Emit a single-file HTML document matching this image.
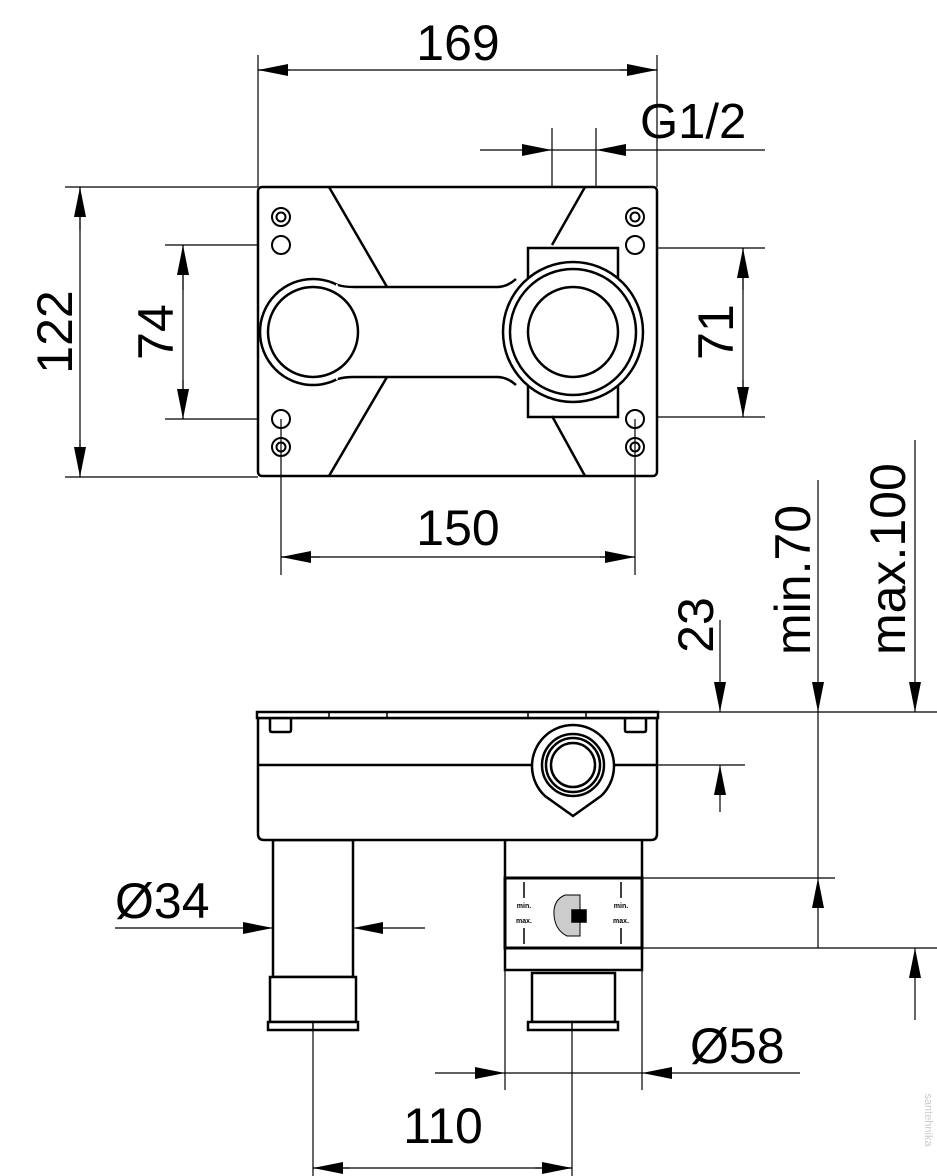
<!DOCTYPE html>
<html><head><meta charset="utf-8"><style>html,body{margin:0;padding:0;background:#fff}svg{display:block}text{font-family:"Liberation Sans",sans-serif;fill:#000}</style></head>
<body>
<svg width="937" height="1176" viewBox="0 0 937 1176" xmlns="http://www.w3.org/2000/svg">
<defs>
<marker id="a" viewBox="0 0 30 12" refX="30" refY="6" markerWidth="30" markerHeight="12" markerUnits="userSpaceOnUse" orient="auto"><path d="M0,0 L30,6 L0,12 z" fill="#000"/></marker>
</defs>
<g stroke="#000" stroke-width="1.2" fill="none">
<line x1="258" y1="55" x2="258" y2="187"/><line x1="657" y1="55" x2="657" y2="187"/>
<line x1="552" y1="128" x2="552" y2="245"/><line x1="596" y1="128" x2="596" y2="245"/>
<line x1="65" y1="187" x2="258" y2="187"/><line x1="65" y1="477" x2="258" y2="477"/>
<line x1="165" y1="245" x2="281" y2="245"/><line x1="165" y1="419" x2="281" y2="419"/>
<line x1="620" y1="248" x2="765" y2="248"/><line x1="620" y1="417" x2="765" y2="417"/>
<line x1="281" y1="419" x2="281" y2="575"/><line x1="635" y1="419" x2="635" y2="575"/>
<line x1="258" y1="70" x2="657" y2="70"/>
<line x1="290" y1="70" x2="258" y2="70" marker-end="url(#a)"/><line x1="620" y1="70" x2="657" y2="70" marker-end="url(#a)"/>
<line x1="480" y1="150" x2="552" y2="150" marker-end="url(#a)"/><line x1="765" y1="150" x2="596" y2="150" marker-end="url(#a)"/>
<line x1="552" y1="150" x2="596" y2="150"/>
<line x1="80" y1="187" x2="80" y2="477"/>
<line x1="80" y1="230" x2="80" y2="187" marker-end="url(#a)"/><line x1="80" y1="440" x2="80" y2="477" marker-end="url(#a)"/>
<line x1="183" y1="245" x2="183" y2="419"/>
<line x1="183" y1="290" x2="183" y2="245" marker-end="url(#a)"/><line x1="183" y1="380" x2="183" y2="419" marker-end="url(#a)"/>
<line x1="743" y1="248" x2="743" y2="417"/>
<line x1="743" y1="290" x2="743" y2="248" marker-end="url(#a)"/><line x1="743" y1="380" x2="743" y2="417" marker-end="url(#a)"/>
<line x1="281" y1="557" x2="635" y2="557"/>
<line x1="320" y1="557" x2="281" y2="557" marker-end="url(#a)"/><line x1="600" y1="557" x2="635" y2="557" marker-end="url(#a)"/>
<line x1="658" y1="712" x2="937" y2="712"/>
<line x1="610" y1="765" x2="745" y2="765"/>
<line x1="642" y1="878" x2="835" y2="878"/>
<line x1="642" y1="948" x2="937" y2="948"/>
<line x1="505" y1="970" x2="505" y2="1090"/><line x1="642" y1="970" x2="642" y2="1090"/>
<line x1="313" y1="1030" x2="313" y2="1176"/><line x1="572" y1="1030" x2="572" y2="1176"/>
<line x1="720" y1="620" x2="720" y2="712" marker-end="url(#a)"/><line x1="720" y1="812" x2="720" y2="765" marker-end="url(#a)"/>
<line x1="818" y1="480" x2="818" y2="712" marker-end="url(#a)"/><line x1="818" y1="948" x2="818" y2="878" marker-end="url(#a)"/><line x1="818" y1="712" x2="818" y2="878"/>
<line x1="915" y1="440" x2="915" y2="712" marker-end="url(#a)"/><line x1="915" y1="1020" x2="915" y2="948" marker-end="url(#a)"/>
<line x1="115" y1="928" x2="273" y2="928" marker-end="url(#a)"/><line x1="425" y1="928" x2="353" y2="928" marker-end="url(#a)"/><line x1="273" y1="928" x2="353" y2="928"/>
<line x1="435" y1="1073" x2="505" y2="1073" marker-end="url(#a)"/><line x1="800" y1="1073" x2="642" y2="1073" marker-end="url(#a)"/><line x1="505" y1="1073" x2="642" y2="1073"/>
<line x1="313" y1="1168" x2="572" y2="1168"/>
<line x1="350" y1="1168" x2="313" y2="1168" marker-end="url(#a)"/><line x1="535" y1="1168" x2="572" y2="1168" marker-end="url(#a)"/>
</g>
<!-- TOP VIEW -->
<g stroke="#000" stroke-width="2.5" fill="#fff">
<rect x="258" y="187" width="399" height="289" rx="4"/>
<g fill="none">
<line x1="329" y1="187" x2="387" y2="287"/><line x1="387" y1="377" x2="329" y2="476"/>
<line x1="585" y1="187" x2="552" y2="245"/><line x1="552" y1="416" x2="585" y2="476"/>
</g>
<circle cx="313" cy="332" r="53"/>
<path d="M336,284 Q344,287 354,287 L497,287 Q507,287 516,279 L530,279 L530,385 L516,385 Q507,377 497,377 L354,377 Q344,377 336,380 Z" stroke="none"/>
<path d="M338,285 Q344,287 354,287 L497,287 Q507,287 516,279 M338,379 Q344,377 354,377 L497,377 Q507,377 516,385" fill="none"/>
<path d="M528,280 L528,248 L618,248 L618,280 M528,384 L528,417 L618,417 L618,384" fill="none"/>
<circle cx="573" cy="332" r="70"/>
<circle cx="573" cy="332" r="63"/>
<circle cx="573" cy="332" r="45"/>
<circle cx="313" cy="332" r="45"/>
<g stroke-width="2">
<circle cx="281" cy="245" r="9"/><circle cx="281" cy="419" r="9"/><circle cx="635" cy="245" r="9"/><circle cx="635" cy="419" r="9"/>
<circle cx="281" cy="217" r="9"/><circle cx="281" cy="447" r="9"/><circle cx="635" cy="217" r="9"/><circle cx="635" cy="447" r="9"/>
<circle cx="281" cy="217" r="4.5"/><circle cx="281" cy="447" r="4.5"/><circle cx="635" cy="217" r="4.5"/><circle cx="635" cy="447" r="4.5"/>
</g>
</g>
<g stroke="#000" stroke-width="1.2"><line x1="281" y1="419" x2="281" y2="477"/><line x1="635" y1="419" x2="635" y2="477"/></g>
<!-- BOTTOM VIEW -->
<g stroke="#000" stroke-width="2.5" fill="#fff">
<rect x="273" y="840" width="80" height="137"/>
<rect x="270" y="977" width="86" height="45"/>
<rect x="268" y="1022" width="90" height="8"/>
<rect x="505" y="838" width="137" height="132"/>
<rect x="532" y="973" width="83" height="49"/>
<rect x="528" y="1022" width="90" height="8"/>
<path d="M258,718 L657,718 L657,834 Q657,840 651,840 L264,840 Q258,840 258,834 Z"/>
<rect x="257" y="712" width="401" height="6"/>
<line x1="258" y1="765" x2="657" y2="765"/>
<path d="M270,718 L270,730 Q270,732 272,732 L289,732 Q291,732 291,730 L291,718" fill="none"/>
<path d="M625,718 L625,730 Q625,732 627,732 L644,732 Q646,732 646,730 L646,718" fill="none"/>
<path d="M573,816 L545,796 A41,41 0 1 1 601,796 Z"/>
<circle cx="573" cy="765" r="31"/><circle cx="573" cy="765" r="27"/><circle cx="573" cy="765" r="22"/>
<rect x="505" y="878" width="137" height="70" stroke-width="3"/>
</g>
<g stroke="#000" stroke-width="1.5" fill="none">
<line x1="329" y1="712" x2="329" y2="718"/><line x1="387" y1="712" x2="387" y2="718"/><line x1="528" y1="712" x2="528" y2="718"/><line x1="586" y1="712" x2="586" y2="718"/>
<line x1="313" y1="1022" x2="313" y2="1030"/><line x1="572" y1="1022" x2="572" y2="1030"/>
<line x1="524" y1="882" x2="524" y2="898"/><line x1="524" y1="928" x2="524" y2="944"/>
<line x1="621" y1="882" x2="621" y2="898"/><line x1="621" y1="928" x2="621" y2="944"/>
<path d="M565,895 Q553,900 554,915 Q555,930 567,936 L580,936 L580,895 Z" fill="#ccc" stroke-width="1"/>
<rect x="572" y="910" width="14" height="12" fill="#000"/>
</g>
<g font-size="7" font-weight="bold" text-anchor="middle">
<text x="524" y="908">min.</text><text x="524" y="923">max.</text>
<text x="621" y="908">min.</text><text x="621" y="923">max.</text>
</g>
<g font-size="50">
<text x="458" y="60" text-anchor="middle">169</text>
<text x="640" y="138" font-size="49">G1/2</text>
<text x="458" y="545" text-anchor="middle">150</text>
<text transform="translate(72,332) rotate(-90)" text-anchor="middle">122</text>
<text transform="translate(173,332) rotate(-90)" text-anchor="middle">74</text>
<text transform="translate(733,332) rotate(-90)" text-anchor="middle">71</text>
<text transform="translate(713,625) rotate(-90)" text-anchor="middle">23</text>
<text transform="translate(810,655) rotate(-90)">min.70</text>
<text transform="translate(905,655) rotate(-90)">max.100</text>
<text x="115" y="918">Ø34</text>
<text x="690" y="1063">Ø58</text>
<text x="443" y="1143" text-anchor="middle">110</text>
</g>
<text transform="translate(925,1120) rotate(90)" font-size="11" style="fill:#ccc" text-anchor="middle">santehnika</text>
</svg>
</body></html>
